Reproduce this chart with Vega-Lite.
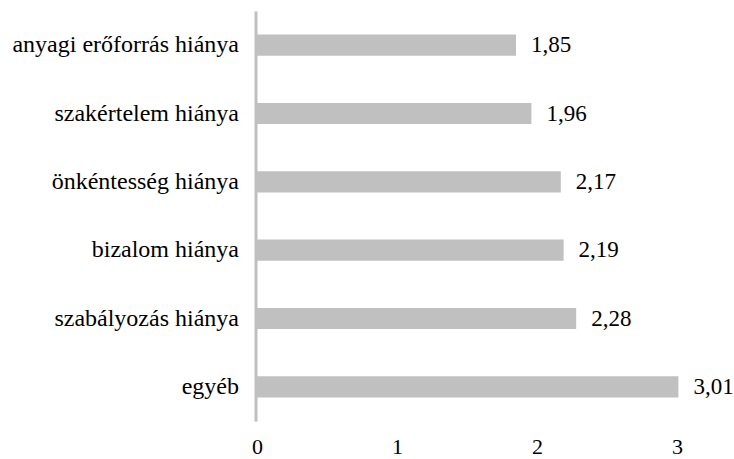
{
  "$schema": "https://vega.github.io/schema/vega-lite/v6.json",
  "width": 420,
  "height": 410,
  "autosize": {"type": "none"},
  "padding": {"left": 257, "top": 11, "right": 57, "bottom": 38},
  "background": "white",
  "config": {
    "view": {"stroke": null},
    "font": "Liberation Serif",
    "locale": {"number": {"decimal": ",", "thousands": " ", "grouping": [3], "currency": ["", ""]}}
  },
  "data": {
    "values": [
      {"category": "anyagi erőforrás hiánya", "value": 1.85},
      {"category": "szakértelem hiánya", "value": 1.96},
      {"category": "önkéntesség hiánya", "value": 2.17},
      {"category": "bizalom hiánya", "value": 2.19},
      {"category": "szabályozás hiánya", "value": 2.28},
      {"category": "egyéb", "value": 3.01}
    ]
  },
  "encoding": {
    "y": {
      "field": "category",
      "type": "nominal",
      "sort": null,
      "scale": {"paddingInner": 0.69, "paddingOuter": 0.345},
      "axis": {
        "title": null,
        "ticks": false,
        "domainColor": "#bfbfbf",
        "domainWidth": 3,
        "offset": 1.5,
        "labelFont": "Liberation Serif",
        "labelFontSize": 24,
        "labelColor": "#000000",
        "labelPadding": 17,
        "labelLimit": 400
      }
    },
    "x": {
      "field": "value",
      "type": "quantitative",
      "scale": {"domain": [0, 3], "nice": false},
      "axis": {
        "title": null,
        "values": [0, 1, 2, 3],
        "format": "d",
        "grid": false,
        "domain": false,
        "ticks": false,
        "labelFont": "Liberation Serif",
        "labelFontSize": 22,
        "labelColor": "#000000",
        "labelPadding": 15,
        "labelFlush": false
      }
    }
  },
  "layer": [
    {"mark": {"type": "bar", "color": "#c0c0c0"}},
    {
      "mark": {"type": "text", "align": "left", "baseline": "middle", "dx": 15, "font": "Liberation Serif", "fontSize": 23, "color": "#000000"},
      "encoding": {"text": {"field": "value", "type": "quantitative", "format": ".2f"}}
    }
  ]
}
